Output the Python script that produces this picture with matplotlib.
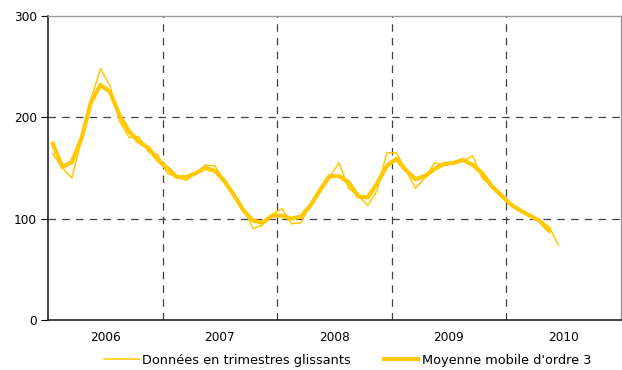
import matplotlib
matplotlib.use("Agg")
from matplotlib import pyplot as plt

# monthly points, Jan 2006 onwards
years = ['2006', '2007', '2008', '2009', '2010']

raw = [164, 150, 140, 178, 218, 248, 231, 196, 180, 181, 166, 163,
       145, 141, 138, 145, 153, 152, 137, 123, 110, 90, 94, 104,
       110, 95, 96, 114, 130, 141, 155, 130, 123, 113, 128, 165,
       165, 148, 130, 140, 155, 153, 154, 157, 162, 140, 132, 123,
       113, 107, 103, 99, 92, 74]

smooth = [174, 151, 156, 179, 215, 232, 225, 202, 186, 176, 170, 158,
          150, 141, 141, 145, 150, 147, 137, 123, 108, 98, 96, 103,
          103, 100, 102, 113, 128, 142, 142, 136, 122, 121, 135, 152,
          159, 148, 139, 142, 149, 154, 155, 158, 153, 145, 132, 123,
          114, 108, 103, 98, 88]

yellow = '#FFC800'
grid_kw = dict(color='#404040', lw=0.9, ls=(0, (6, 5)), zorder=0)

fig = plt.figure(figsize=(6.22, 3.70), dpi=100)
ax = fig.add_axes([0.0772, 0.1351, 0.9205, 0.8217])

ax.plot(range(len(raw)), raw, color=yellow, lw=1.1, label='Données en trimestres glissants')
ax.plot(range(len(smooth)), smooth, color=yellow, lw=3, label="Moyenne mobile d'ordre 3")

ax.set_xlim(-0.5, 59.5)
ax.set_ylim(0, 300)
ax.set_yticks([0, 100, 200, 300])
ax.set_xticks([5.5 + 12 * k for k in range(len(years))])
ax.set_xticklabels(years)
ax.tick_params(axis='x', length=0, pad=8, labelsize=8.7)
ax.tick_params(axis='y', length=5, width=0.8, labelsize=8.7, pad=3)

# dashed grid: 100 / 200 and year boundaries
for yv in [100, 200]:
    ax.axhline(yv, **grid_kw)
for k in range(1, len(years)):
    ax.axvline(12 * k - 0.5, **grid_kw)

for s in ['top', 'right']:
    ax.spines[s].set_color('#999999')
    ax.spines[s].set_linewidth(1)
for s in ['left', 'bottom']:
    ax.spines[s].set_color('#222222')
    ax.spines[s].set_linewidth(1.2)

fig.legend(loc='center', bbox_to_anchor=(0.559, 0.026), ncol=2, frameon=False,
           fontsize=9.3, handlelength=2.7, handletextpad=0.25, columnspacing=2.5)

plt.savefig('out.png', dpi=100)
